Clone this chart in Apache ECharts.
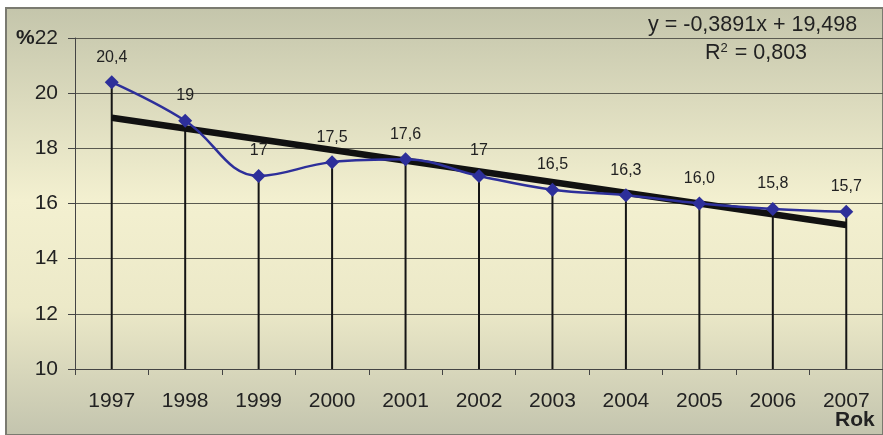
<!DOCTYPE html>
<html>
<head>
<meta charset="utf-8">
<script src="https://cdn.jsdelivr.net/npm/echarts@6/dist/echarts.min.js"></script>
<style>
  html, body { margin: 0; padding: 0; background: #fff; }
  #chart { width: 883px; height: 435px; }
</style>
</head>
<body>
<div id="chart"></div>
<script>
// dane
var years = ["1997", "1998", "1999", "2000", "2001", "2002", "2003", "2004", "2005", "2006", "2007"];
var values = [20.4, 19, 17, 17.5, 17.6, 17, 16.5, 16.3, 16.0, 15.8, 15.7];
var valueLabels = ["20,4", "19", "17", "17,5", "17,6", "17", "16,5", "16,3", "16,0", "15,8", "15,7"];
// linia trendu - odczytane końce
var trendStart = 19.11;
var trendEnd = 15.22;

var chart = echarts.init(document.getElementById("chart"));

var option = {
  animation: false,
  textStyle: { fontFamily: "Liberation Sans, Arial, sans-serif" },
  graphic: [
    {
      type: "rect",
      z: -10,
      shape: { x: 6, y: 8, width: 877, height: 427 },
      style: {
        fill: new echarts.graphic.LinearGradient(0, 0, 0, 1, [
          { offset: 0, color: "#c4c5ab" },
          { offset: 0.45, color: "#f3f0d0" },
          { offset: 0.7, color: "#ece9c8" },
          { offset: 1, color: "#c3c4ae" }
        ]),
        stroke: "#7a7a70",
        lineWidth: 2
      }
    },
    {
      type: "text",
      left: 648, top: 14,
      style: { text: "y = -0,3891x + 19,498", fontSize: 21.5, fill: "#222", fontFamily: "Liberation Sans, Arial" }
    },
    {
      type: "text",
      left: 705, top: 42,
      style: {
        text: "R{s|2} = 0,803",
        fontSize: 21.5, fill: "#222", fontFamily: "Liberation Sans, Arial",
        rich: { s: { fontSize: 13, verticalAlign: "top", lineHeight: 14, padding: [0, 1, 12, 0], fill: "#222" } }
      }
    },
    {
      type: "text",
      left: 835, top: 410,
      style: { text: "Rok", fontSize: 21, fontWeight: "bold", fill: "#222", fontFamily: "Liberation Sans, Arial" }
    }
  ],
  grid: { left: 75, right: -6, top: 38, bottom: 66 },
  xAxis: {
    type: "category",
    data: years,
    boundaryGap: true,
    axisLine: { show: true, lineStyle: { color: "#444", width: 1 } },
    axisTick: { show: true, length: 6, inside: false, lineStyle: { color: "#444" } },
    axisLabel: { fontSize: 21, color: "#222", margin: 22 },
    splitLine: { show: false }
  },
  yAxis: {
    type: "value",
    min: 10, max: 22, interval: 2,
    axisLine: { show: true, lineStyle: { color: "#444" } },
    axisTick: { show: true, length: 7, lineStyle: { color: "#444" } },
    axisLabel: {
      fontSize: 21, color: "#222", margin: 17,
      formatter: function (v) { return v === 22 ? "{p|%}22" : String(v); },
      rich: { p: { fontSize: 21, fontWeight: "bold", color: "#222" } }
    },
    splitLine: { show: true, lineStyle: { color: "#5a5a50", width: 1 } }
  },
  series: [
    {
      // linie pionowe od punktu do osi
      type: "bar",
      data: values,
      barWidth: 2,
      itemStyle: { color: "#151515" },
      z: 1,
      silent: true
    },
    {
      type: "line",
      data: [[years[0], trendStart], [years[years.length - 1], trendEnd]],
      symbol: "none",
      lineStyle: { color: "#111", width: 6.5 },
      z: 2
    },
    {
      type: "line",
      data: values,
      smooth: 0.4,
      symbol: "diamond",
      symbolSize: 14,
      itemStyle: { color: "#2d2f9a" },
      lineStyle: { color: "#2d2f9a", width: 2.5 },
      label: {
        show: true,
        position: "top",
        distance: 10,
        fontSize: 16,
        color: "#222",
        formatter: function (p) { return valueLabels[p.dataIndex]; }
      },
      z: 3
    }
  ]
};

chart.setOption(option);
</script>
</body>
</html>
